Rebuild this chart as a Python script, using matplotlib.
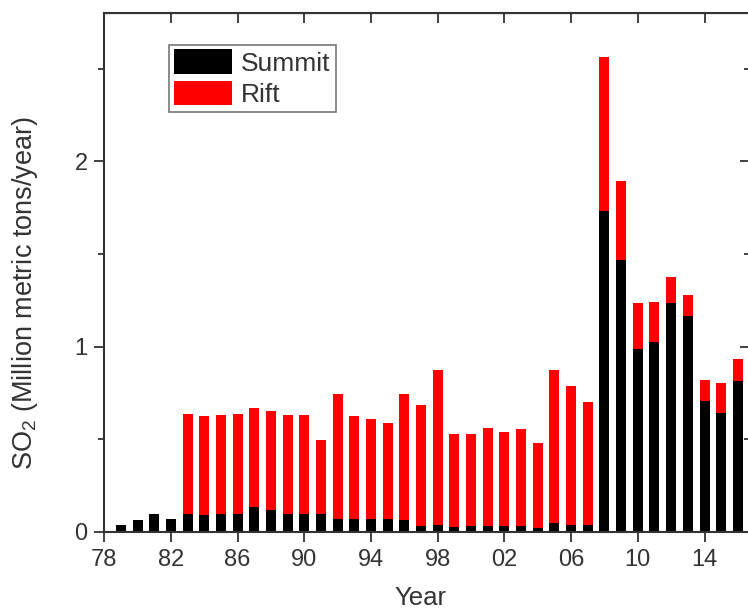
import matplotlib
matplotlib.use("Agg")
import matplotlib.pyplot as plt
import numpy as np

plt.rcParams['font.family'] = ['Liberation Sans', 'DejaVu Sans']
plt.rcParams['mathtext.fontset'] = 'custom'
plt.rcParams['mathtext.rm'] = 'Liberation Sans'
plt.rcParams['mathtext.it'] = 'Liberation Sans'
plt.rcParams['mathtext.default'] = 'regular'

# data (million metric tons / year)
years = list(range(1979, 2017))
summit = [0.036, 0.063, 0.099, 0.072, 0.099, 0.090, 0.099, 0.099, 0.135, 0.120,
          0.099, 0.099, 0.099, 0.072, 0.072, 0.072, 0.072, 0.063, 0.031, 0.036,
          0.027, 0.031, 0.031, 0.031, 0.030, 0.023, 0.050, 0.040, 0.040, 1.734,
          1.468, 0.988, 1.024, 1.234, 1.163, 0.706, 0.642, 0.814]
rift = [0.0, 0.0, 0.0, 0.0, 0.539, 0.534, 0.530, 0.539, 0.535, 0.532,
        0.530, 0.530, 0.395, 0.674, 0.552, 0.539, 0.516, 0.683, 0.652, 0.836,
        0.503, 0.496, 0.530, 0.508, 0.527, 0.459, 0.822, 0.745, 0.660, 0.830,
        0.428, 0.246, 0.216, 0.141, 0.113, 0.115, 0.161, 0.120]
tick_years = [1978, 1982, 1986, 1990, 1994, 1998, 2002, 2006, 2010, 2014]
tick_labels = ['78', '82', '86', '90', '94', '98', '02', '06', '10', '14']

txt = '#333333'

fig = plt.figure(figsize=(7.48, 6.15), dpi=100)
ax = fig.add_axes([0.1394, 0.135, 0.8633, 0.8439])

ax.bar(years, summit, width=0.6, color='black', label='Summit')
ax.bar(years, rift, width=0.6, bottom=summit, color='#ff0000', label='Rift')

ax.set_xlim(1978, 2016.73)
ax.set_ylim(0, 2.8)
ax.set_xticks(tick_years)
ax.set_xticklabels(tick_labels)
ax.set_yticks([0, 1, 2])
ax.set_yticks([0.5, 1.5, 2.5], minor=True)

for s in ax.spines.values():
    s.set_linewidth(1.5)
    s.set_color('#333333')

ax.tick_params(which='major', direction='out', length=7, width=1.3, color='#333333',
               labelsize=17, labelcolor=txt, pad=5)
ax.tick_params(which='minor', direction='out', length=4, width=1.3, color='#333333')

# inward ticks on top and right
top = ax.secondary_xaxis('top')
top.set_xticks(tick_years)
top.tick_params(direction='in', length=7, width=1.3, color='#333333', labeltop=False)
right = ax.secondary_yaxis('right')
right.set_yticks([0, 1, 2])
right.set_yticks([0.5, 1.5, 2.5], minor=True)
right.tick_params(which='major', direction='in', length=7, width=1.3, color='#333333', labelright=False)
right.tick_params(which='minor', direction='in', length=4, width=1.3, color='#333333')

ax.set_xlabel('Year', fontsize=18.5, color=txt)
ax.xaxis.set_label_coords(0.49, -0.105)
ax.set_ylabel(r'SO$_2$ (Million metric tons/year)', fontsize=19.5, color=txt)
ax.yaxis.set_label_coords(-0.1, 0.46)

leg = ax.legend(loc='upper left', bbox_to_anchor=(0.1007, 0.939), borderaxespad=0,
                fontsize=19, fancybox=False, edgecolor='#777777',
                handlelength=2.2, handleheight=1.07, labelspacing=0.18,
                handletextpad=0.35, borderpad=0.18, framealpha=1)
leg.get_frame().set_linewidth(1.2)
for t in leg.get_texts():
    t.set_color(txt)

fig.savefig('out.png', dpi=100)
